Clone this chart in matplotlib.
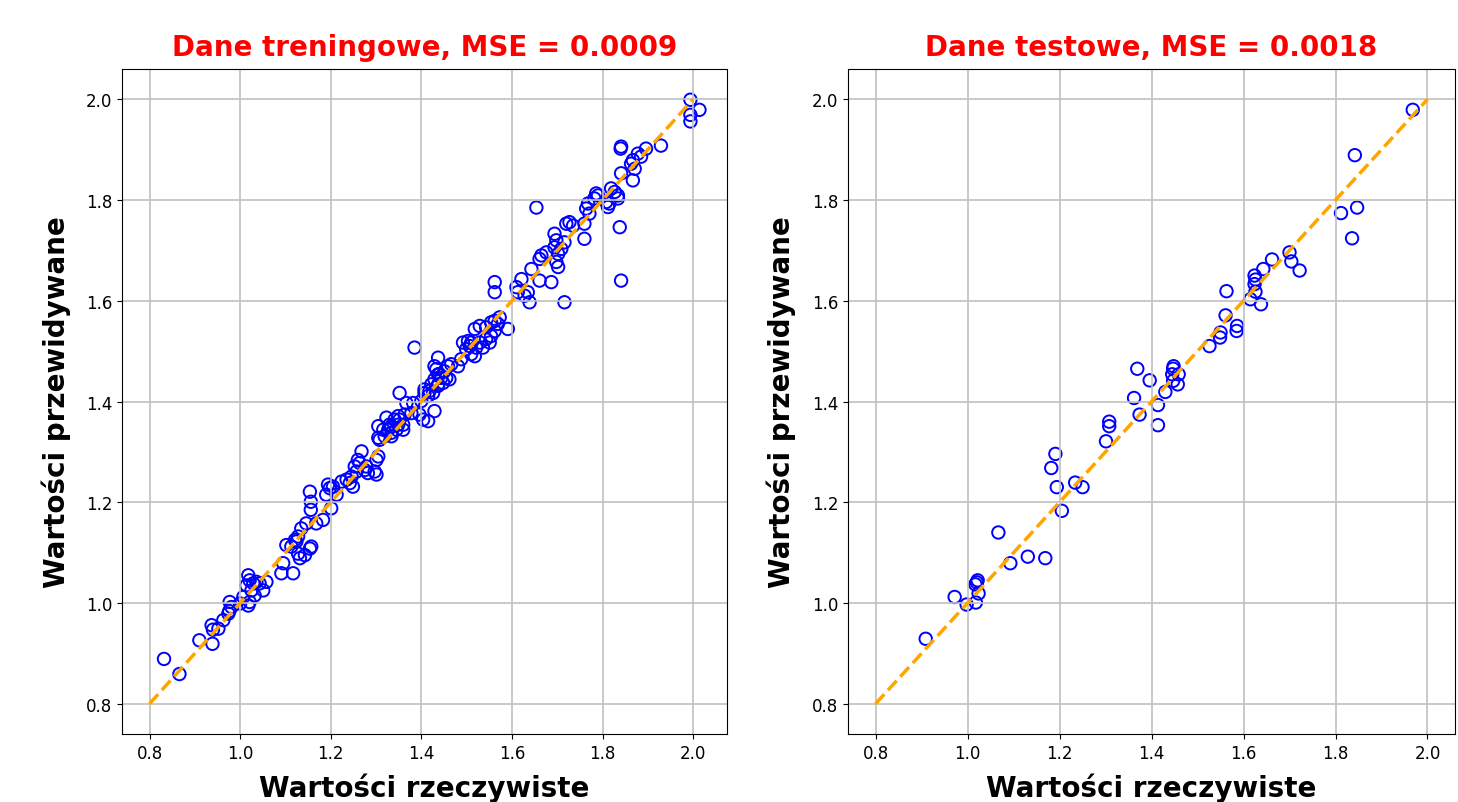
import matplotlib
matplotlib.use("Agg")
import matplotlib.pyplot as plt
import numpy as np

# Training set: actual vs predicted
train_actual = [
    0.832, 0.866, 0.910, 0.937, 0.940, 0.939, 0.952, 0.963, 0.974, 0.976,
    0.981, 0.977, 1.000, 1.007, 1.018, 1.021, 1.018, 1.021, 1.014, 1.029,
    1.036, 1.043, 1.058, 1.025, 1.032, 1.051, 1.095, 1.091, 1.117, 1.102,
    1.113, 1.128, 1.132, 1.154, 1.124, 1.121, 1.128, 1.135, 1.146, 1.168,
    1.183, 1.143, 1.157, 1.154, 1.156, 1.156, 1.194, 1.198, 1.205, 1.190,
    1.213, 1.201, 1.224, 1.235, 1.249, 1.246, 1.253, 1.264, 1.268, 1.257,
    1.275, 1.297, 1.301, 1.301, 1.260, 1.242, 1.282, 1.279, 1.305, 1.305,
    1.305, 1.316, 1.319, 1.323, 1.330, 1.334, 1.345, 1.360, 1.349, 1.352,
    1.367, 1.382, 1.400, 1.407, 1.418, 1.429, 1.404, 1.415, 1.396, 1.378,
    1.363, 1.352, 1.341, 1.334, 1.327, 1.308, 1.334, 1.349, 1.360, 1.385,
    1.429, 1.437, 1.444, 1.451, 1.459, 1.462, 1.437, 1.422, 1.437, 1.433,
    1.440, 1.455, 1.429, 1.437, 1.448, 1.407, 1.426, 1.415, 1.466, 1.481,
    1.488, 1.510, 1.518, 1.507, 1.499, 1.492, 1.503, 1.510, 1.521, 1.529,
    1.536, 1.543, 1.551, 1.554, 1.562, 1.591, 1.569, 1.518, 1.529, 1.543,
    1.554, 1.562, 1.573, 1.562, 1.562, 1.610, 1.613, 1.635, 1.628, 1.639,
    1.621, 1.661, 1.687, 1.643, 1.661, 1.665, 1.676, 1.702, 1.694, 1.709,
    1.698, 1.702, 1.716, 1.698, 1.694, 1.720, 1.727, 1.735, 1.760, 1.760,
    1.716, 1.654, 1.764, 1.771, 1.768, 1.782, 1.790, 1.786, 1.812, 1.815,
    1.808, 1.819, 1.827, 1.834, 1.834, 1.838, 1.841, 1.841, 1.867, 1.871,
    1.863, 1.867, 1.878, 1.885, 1.896, 1.929, 1.841, 1.840, 1.994, 2.014,
    1.994, 1.994,
]
train_pred = [
    0.889, 0.859, 0.926, 0.956, 0.947, 0.919, 0.949, 0.966, 0.979, 0.984,
    0.992, 1.002, 0.999, 1.012, 0.995, 1.002, 1.055, 1.045, 1.035, 1.039,
    1.042, 1.039, 1.042, 1.025, 1.015, 1.025, 1.079, 1.059, 1.059, 1.115,
    1.112, 1.098, 1.089, 1.108, 1.122, 1.125, 1.132, 1.148, 1.158, 1.158,
    1.165, 1.095, 1.112, 1.221, 1.201, 1.185, 1.235, 1.228, 1.231, 1.215,
    1.215, 1.188, 1.241, 1.245, 1.231, 1.251, 1.271, 1.278, 1.301, 1.261,
    1.264, 1.261, 1.284, 1.255, 1.284, 1.238, 1.258, 1.271, 1.291, 1.328,
    1.351, 1.344, 1.331, 1.368, 1.354, 1.338, 1.344, 1.344, 1.371, 1.417,
    1.397, 1.397, 1.401, 1.417, 1.421, 1.381, 1.364, 1.361, 1.374, 1.377,
    1.374, 1.364, 1.364, 1.351, 1.344, 1.324, 1.331, 1.354, 1.354, 1.507,
    1.470, 1.454, 1.447, 1.460, 1.470, 1.444, 1.434, 1.434, 1.487, 1.464,
    1.454, 1.447, 1.444, 1.431, 1.437, 1.424, 1.417, 1.411, 1.474, 1.470,
    1.484, 1.494, 1.490, 1.510, 1.504, 1.517, 1.520, 1.517, 1.507, 1.517,
    1.507, 1.524, 1.517, 1.530, 1.540, 1.544, 1.554, 1.544, 1.550, 1.547,
    1.557, 1.560, 1.567, 1.637, 1.617, 1.627, 1.617, 1.617, 1.610, 1.597,
    1.643, 1.640, 1.637, 1.663, 1.683, 1.690, 1.696, 1.693, 1.706, 1.703,
    1.677, 1.667, 1.716, 1.720, 1.733, 1.753, 1.756, 1.749, 1.753, 1.723,
    1.597, 1.785, 1.783, 1.773, 1.793, 1.803, 1.809, 1.813, 1.786, 1.793,
    1.796, 1.823, 1.816, 1.809, 1.803, 1.746, 1.640, 1.853, 1.839, 1.862,
    1.872, 1.879, 1.892, 1.886, 1.902, 1.908, 1.906, 1.902, 1.999, 1.979,
    1.969, 1.956,
]

# Test set: actual vs predicted
test_actual = [
    0.909, 0.972, 0.998, 1.018, 1.024, 1.017, 1.022, 1.020, 1.067, 1.093,
    1.131, 1.169, 1.205, 1.194, 1.234, 1.250, 1.182, 1.191, 1.301, 1.308,
    1.308, 1.362, 1.374, 1.369, 1.396, 1.414, 1.414, 1.430, 1.447, 1.448,
    1.445, 1.459, 1.447, 1.457, 1.526, 1.549, 1.550, 1.585, 1.586, 1.561,
    1.563, 1.615, 1.638, 1.626, 1.624, 1.626, 1.624, 1.643, 1.662, 1.700,
    1.704, 1.722, 1.812, 1.847, 1.836, 1.842, 1.968,
]
test_pred = [
    0.929, 1.012, 0.997, 1.001, 1.019, 1.037, 1.045, 1.041, 1.140, 1.079,
    1.092, 1.089, 1.183, 1.230, 1.239, 1.230, 1.268, 1.296, 1.321, 1.351,
    1.360, 1.407, 1.374, 1.465, 1.442, 1.393, 1.353, 1.419, 1.465, 1.470,
    1.454, 1.454, 1.441, 1.434, 1.510, 1.527, 1.537, 1.540, 1.550, 1.571,
    1.619, 1.603, 1.593, 1.618, 1.633, 1.642, 1.650, 1.663, 1.682, 1.696,
    1.678, 1.660, 1.774, 1.785, 1.724, 1.889, 1.979,
]

titles = ["Dane treningowe, MSE = 0.0009", "Dane testowe, MSE = 0.0018"]
xlabel = "Wartości rzeczywiste"
ylabel = "Wartości przewidywane"
ref_line = [0.8, 2.0]
ticks = [0.8, 1.0, 1.2, 1.4, 1.6, 1.8, 2.0]

fig = plt.figure(figsize=(14.58, 8.03), dpi=100)
ax1 = fig.add_axes([0.0837, 0.0847, 0.4149, 0.8281])
ax2 = fig.add_axes([0.5816, 0.0847, 0.4164, 0.8281])

for ax, xa, yp, title in [(ax1, train_actual, train_pred, titles[0]),
                          (ax2, test_actual, test_pred, titles[1])]:
    ax.scatter(xa, yp, s=80, facecolors="none", edgecolors="blue", linewidths=1.4)
    ax.plot(ref_line, ref_line, linestyle="--", color="orange", linewidth=2.5)
    ax.set_title(title, color="red", fontsize=20, fontweight="bold", pad=10)
    ax.set_xlabel(xlabel, fontsize=20, fontweight="bold", labelpad=8)
    ax.set_ylabel(ylabel, fontsize=20, fontweight="bold", labelpad=11)
    ax.set_xticks(ticks)
    ax.set_yticks(ticks)
    ax.tick_params(labelsize=12)
    ax.grid(True, color="#c0c0c0", linewidth=1.2)

fig.savefig("out.png", dpi=100)
